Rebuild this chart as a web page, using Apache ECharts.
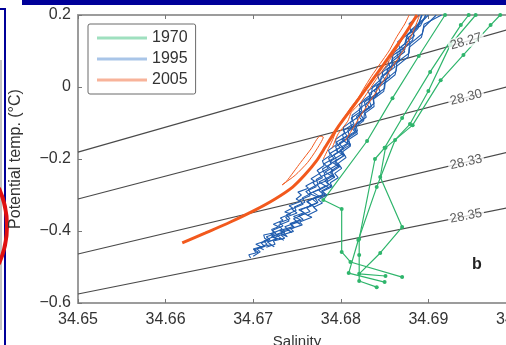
<!DOCTYPE html>
<html>
<head>
<meta charset="utf-8">
<title>Potential temperature vs salinity</title>
<script src="https://cdn.jsdelivr.net/npm/echarts/dist/echarts.min.js"></script>
<style>
html,body{margin:0;padding:0;background:#fff;}
#main{width:506px;height:345px;}
</style>
</head>
<body>
<div id="main"></div>
<script>
// 坐标轴刻度
var salinityTicks = [34.65, 34.66, 34.67, 34.68, 34.69, 34.70];
var tempTicks = [-0.6, -0.4, -0.2, 0, 0.2];
var years = ['1970', '1995', '2005'];

// 等密度线 (sigma)
var isoNames = ['28.27', '28.30', '28.33', '28.35'];
var iso_1 = [[34.65, -0.181], [34.70, 0.166]];
var iso_2 = [[34.65, -0.311], [34.70, 0.007]];
var iso_3 = [[34.65, -0.464], [34.70, -0.176]];
var iso_4 = [[34.65, -0.575], [34.70, -0.331]];
var isoLabelSal = 34.6943;

// 1970 bottle profiles
var g1970_1 = [[34.6870,-0.528],[34.6811,-0.486],[34.6801,-0.458],[34.6801,-0.339],[34.6780,-0.314],[34.6830,-0.150],[34.6859,-0.031],[34.6889,0.086],[34.6919,0.2]];
var g1970_2 = [[34.6841,-0.556],[34.6821,-0.539],[34.6821,-0.467],[34.6821,-0.422],[34.6839,-0.200],[34.6850,-0.169],[34.6870,-0.086],[34.6902,0.042],[34.6937,0.172],[34.6946,0.2]];
var g1970_3 = [[34.6850,-0.542],[34.6809,-0.517],[34.6820,-0.425],[34.6841,-0.278],[34.6862,-0.147],[34.6879,-0.103],[34.6900,-0.011],[34.6925,0.117],[34.6954,0.2]];
var g1970_4 = [[34.6851,-0.525],[34.6821,-0.519],[34.6845,-0.461],[34.6870,-0.389],[34.6845,-0.250],[34.6851,-0.169],[34.6882,-0.106],[34.6914,0.019],[34.6940,0.089],[34.6971,0.172],[34.6982,0.2]];

// 1995 CTD profiles
var b1995_1 = [[34.6697,-0.475],[34.6695,-0.466],[34.6706,-0.459],[34.6700,-0.450],[34.6709,-0.444],[34.6703,-0.437],[34.6717,-0.425],[34.6713,-0.420],[34.6712,-0.411],[34.6724,-0.405],[34.6721,-0.396],[34.6729,-0.388],[34.6723,-0.381],[34.6734,-0.370],[34.6731,-0.364],[34.6743,-0.352],[34.6736,-0.347],[34.6745,-0.336],[34.6741,-0.330],[34.6754,-0.318],[34.6749,-0.311],[34.6755,-0.300],[34.6751,-0.292],[34.6763,-0.281],[34.6760,-0.275],[34.6770,-0.262],[34.6766,-0.255],[34.6776,-0.240],[34.6773,-0.232],[34.6781,-0.218],[34.6779,-0.205],[34.6788,-0.190],[34.6786,-0.176],[34.6795,-0.160],[34.6794,-0.146],[34.6804,-0.128],[34.6803,-0.112],[34.6813,-0.094],[34.6813,-0.078],[34.6824,-0.058],[34.6824,-0.040],[34.6835,-0.020],[34.6836,0.000],[34.6847,0.024],[34.6848,0.046],[34.6858,0.070],[34.6860,0.094],[34.6873,0.120],[34.6876,0.146],[34.6888,0.172],[34.6893,0.200]];
var b1995_2 = [[34.6715,-0.445],[34.6725,-0.437],[34.6723,-0.428],[34.6736,-0.420],[34.6732,-0.412],[34.6746,-0.401],[34.6743,-0.394],[34.6756,-0.383],[34.6753,-0.375],[34.6767,-0.362],[34.6762,-0.356],[34.6773,-0.343],[34.6769,-0.334],[34.6779,-0.322],[34.6774,-0.313],[34.6784,-0.300],[34.6779,-0.290],[34.6790,-0.277],[34.6788,-0.266],[34.6797,-0.252],[34.6793,-0.240],[34.6801,-0.226],[34.6797,-0.212],[34.6806,-0.196],[34.6802,-0.180],[34.6811,-0.164],[34.6809,-0.146],[34.6819,-0.130],[34.6816,-0.112],[34.6826,-0.094],[34.6827,-0.074],[34.6838,-0.054],[34.6837,-0.034],[34.6849,-0.012],[34.6850,0.010],[34.6862,0.034],[34.6864,0.058],[34.6877,0.084],[34.6878,0.110],[34.6892,0.138],[34.6895,0.166],[34.6909,0.200]];
var b1995_3 = [[34.6717,-0.430],[34.6728,-0.421],[34.6721,-0.415],[34.6736,-0.404],[34.6730,-0.399],[34.6745,-0.388],[34.6742,-0.379],[34.6754,-0.369],[34.6746,-0.360],[34.6758,-0.349],[34.6752,-0.341],[34.6767,-0.329],[34.6762,-0.318],[34.6773,-0.305],[34.6764,-0.296],[34.6777,-0.284],[34.6773,-0.271],[34.6785,-0.259],[34.6781,-0.246],[34.6791,-0.232],[34.6785,-0.219],[34.6795,-0.203],[34.6792,-0.188],[34.6803,-0.172],[34.6798,-0.156],[34.6810,-0.138],[34.6808,-0.120],[34.6820,-0.100],[34.6818,-0.082],[34.6829,-0.062],[34.6827,-0.042],[34.6840,-0.020],[34.6841,0.002],[34.6853,0.026],[34.6853,0.050],[34.6867,0.076],[34.6868,0.102],[34.6882,0.130],[34.6884,0.160],[34.6900,0.200]];
var b1995_4 = [[34.6764,-0.330],[34.6774,-0.321],[34.6771,-0.310],[34.6782,-0.298],[34.6778,-0.289],[34.6789,-0.275],[34.6784,-0.264],[34.6793,-0.250],[34.6788,-0.238],[34.6798,-0.222],[34.6793,-0.208],[34.6803,-0.192],[34.6799,-0.176],[34.6808,-0.158],[34.6807,-0.140],[34.6819,-0.122],[34.6817,-0.104],[34.6829,-0.084],[34.6827,-0.066],[34.6838,-0.046],[34.6837,-0.026],[34.6850,-0.004],[34.6851,0.020],[34.6863,0.044],[34.6864,0.068],[34.6878,0.094],[34.6879,0.120],[34.6893,0.148],[34.6895,0.174],[34.6915,0.200]];
var b1995_5 = [[34.6703,-0.460],[34.6701,-0.452],[34.6713,-0.443],[34.6709,-0.433],[34.6719,-0.424],[34.6715,-0.416],[34.6726,-0.407],[34.6722,-0.398],[34.6734,-0.386],[34.6730,-0.377],[34.6742,-0.366],[34.6738,-0.355],[34.6749,-0.343],[34.6747,-0.333],[34.6759,-0.320],[34.6756,-0.308],[34.6766,-0.296],[34.6763,-0.285],[34.6774,-0.270],[34.6772,-0.257],[34.6782,-0.243],[34.6779,-0.228],[34.6789,-0.214],[34.6786,-0.198],[34.6797,-0.182],[34.6794,-0.166],[34.6804,-0.150],[34.6802,-0.133],[34.6813,-0.116],[34.6811,-0.098],[34.6822,-0.080],[34.6821,-0.060],[34.6833,-0.040],[34.6833,-0.018],[34.6845,0.004],[34.6846,0.028],[34.6858,0.052],[34.6859,0.078],[34.6873,0.104],[34.6875,0.132],[34.6888,0.162],[34.6892,0.200]];
var b1995_6 = [[34.6712,-0.452],[34.6707,-0.446],[34.6720,-0.438],[34.6724,-0.444],[34.6716,-0.430],[34.6731,-0.420],[34.6735,-0.426],[34.6726,-0.410],[34.6740,-0.398],[34.6744,-0.404],[34.6736,-0.388],[34.6750,-0.376],[34.6754,-0.382],[34.6746,-0.366],[34.6759,-0.352],[34.6763,-0.358],[34.6754,-0.342],[34.6767,-0.328],[34.6770,-0.334],[34.6761,-0.318],[34.6775,-0.302],[34.6778,-0.308],[34.6768,-0.292],[34.6783,-0.274],[34.6786,-0.280],[34.6775,-0.264],[34.6790,-0.246],[34.6793,-0.252],[34.6782,-0.236],[34.6796,-0.216],[34.6799,-0.222],[34.6788,-0.206],[34.6802,-0.186],[34.6805,-0.192],[34.6794,-0.176],[34.6808,-0.156],[34.6811,-0.162],[34.6801,-0.146],[34.6816,-0.124],[34.6812,-0.112],[34.6824,-0.092],[34.6820,-0.080],[34.6833,-0.058],[34.6829,-0.046],[34.6842,-0.022],[34.6838,-0.010],[34.6852,0.016],[34.6848,0.030],[34.6862,0.056],[34.6858,0.070],[34.6873,0.098],[34.6869,0.112],[34.6884,0.142],[34.6880,0.158],[34.6895,0.190],[34.6897,0.200]];
var b1995_7 = [[34.6700,-0.470],[34.6708,-0.458],[34.6704,-0.449],[34.6716,-0.437],[34.6712,-0.428],[34.6722,-0.417],[34.6727,-0.423],[34.6720,-0.408],[34.6733,-0.395],[34.6729,-0.384],[34.6741,-0.372],[34.6737,-0.362],[34.6750,-0.350],[34.6744,-0.339],[34.6757,-0.326],[34.6753,-0.314],[34.6765,-0.302],[34.6760,-0.290],[34.6772,-0.277],[34.6768,-0.265],[34.6779,-0.252],[34.6775,-0.240],[34.6786,-0.226],[34.6781,-0.213],[34.6792,-0.198],[34.6788,-0.184],[34.6799,-0.168],[34.6795,-0.153],[34.6807,-0.136],[34.6803,-0.120],[34.6815,-0.102],[34.6812,-0.086],[34.6824,-0.066],[34.6821,-0.048],[34.6834,-0.028],[34.6831,-0.010],[34.6845,0.012],[34.6842,0.032],[34.6856,0.056],[34.6853,0.078],[34.6868,0.102],[34.6865,0.126],[34.6880,0.152],[34.6878,0.176],[34.6890,0.200]];
var b1995_8 = [[34.6724,-0.418],[34.6733,-0.410],[34.6739,-0.416],[34.6733,-0.400],[34.6747,-0.390],[34.6743,-0.380],[34.6757,-0.368],[34.6752,-0.358],[34.6765,-0.346],[34.6761,-0.336],[34.6773,-0.322],[34.6768,-0.312],[34.6780,-0.298],[34.6775,-0.287],[34.6786,-0.272],[34.6782,-0.260],[34.6792,-0.246],[34.6789,-0.233],[34.6798,-0.218],[34.6794,-0.205],[34.6804,-0.190],[34.6800,-0.176],[34.6811,-0.160],[34.6807,-0.144],[34.6818,-0.126],[34.6814,-0.110],[34.6826,-0.090],[34.6822,-0.074],[34.6835,-0.054],[34.6832,-0.036],[34.6845,-0.014],[34.6842,0.004],[34.6856,0.028],[34.6853,0.048],[34.6867,0.072],[34.6864,0.094],[34.6879,0.120],[34.6876,0.144],[34.6891,0.170],[34.6897,0.200]];

// 2005 profiles
var o2005_main = [[34.6619,-0.433],[34.6645,-0.406],[34.6674,-0.375],[34.6702,-0.342],[34.6725,-0.311],[34.6745,-0.278],[34.6759,-0.244],[34.6772,-0.206],[34.6783,-0.164],[34.6796,-0.114],[34.6811,-0.064],[34.6826,-0.014],[34.6842,0.039],[34.6858,0.094],[34.6874,0.150],[34.6887,0.200]];
var o2005_1 = [[34.6733,-0.272],[34.6748,-0.245],[34.6762,-0.210],[34.6772,-0.175],[34.6780,-0.139],[34.6776,-0.137],[34.6766,-0.172],[34.6754,-0.210],[34.6738,-0.262],[34.6733,-0.272]];
var o2005_2 = [[34.6780,-0.200],[34.6790,-0.150],[34.6797,-0.110],[34.6805,-0.080],[34.6812,-0.055],[34.6820,-0.030],[34.6826,-0.005],[34.6835,0.030],[34.6845,0.065],[34.6855,0.100],[34.6864,0.140],[34.6873,0.175],[34.6878,0.2]];
var o2005_3 = [[34.6790,-0.170],[34.6797,-0.130],[34.6808,-0.095],[34.6812,-0.070],[34.6822,-0.045],[34.6832,-0.010],[34.6840,0.020],[34.6852,0.060],[34.6862,0.100],[34.6872,0.140],[34.6880,0.175],[34.6886,0.2]];
var o2005_4 = [[34.6805,-0.150],[34.6815,-0.110],[34.6825,-0.070],[34.6836,-0.030],[34.6848,0.015],[34.6860,0.060],[34.6871,0.100],[34.6882,0.150],[34.6890,0.2]];

var colors = {'1970': '#2fb56c', '1995': '#1f5cae', '2005': '#f2591d'};
var legendColors = {'1970': '#9fe0bf', '1995': '#a9c5e8', '2005': '#f8b39a'};
var fontFam = 'Liberation Sans, Arial, sans-serif';

function fmtTemp(v){
	if(Math.abs(v) < 1e-9){
		return '0';
	}
	return (v < 0 ? '\u2212' : '') + Math.abs(v).toFixed(1);
}

function isoAt(line, s){ //线性插值求标注位置
	var p0 = line[0], p1 = line[1];
	return p0[1] + (s - p0[0]) * (p1[1] - p0[1]) / (p1[0] - p0[0]);
}

function each(arr, fn){
	for(var i = 0; i < arr.length; i++){
		fn(i, arr[i]);
	}
}

var isoLines = [iso_1, iso_2, iso_3, iso_4];
var isoRotate = [16, 14.5, 13, 11];
var series = [];
var labelData = [];

each(isoLines, function(i, line){
	series.push({
		name: 'iso' + i,
		type: 'line',
		data: line,
		symbol: 'none',
		silent: true,
		z: 1,
		lineStyle: {color: '#4a4a4a', width: 1.2}
	});
	labelData.push({
		name: isoNames[i],
		value: [isoLabelSal, isoAt(line, isoLabelSal)],
		label: {rotate: isoRotate[i]}
	});
});

each([g1970_1, g1970_2, g1970_3, g1970_4], function(i, d){
	series.push({
		name: '1970',
		type: 'line',
		data: d,
		symbol: 'circle',
		symbolSize: 4,
		showSymbol: true,
		z: 2,
		itemStyle: {color: colors['1970']},
		lineStyle: {color: colors['1970'], width: 1.2}
	});
});

each([b1995_1, b1995_2, b1995_3, b1995_4, b1995_5, b1995_6, b1995_7, b1995_8], function(i, d){
	series.push({
		name: '1995',
		type: 'line',
		data: d,
		symbol: 'none',
		z: 3,
		itemStyle: {color: colors['1995']},
		lineStyle: {color: colors['1995'], width: 1.1}
	});
});

each([o2005_1, o2005_2, o2005_3, o2005_4, o2005_main], function(i, d){
	var isMain = d === o2005_main;
	series.push({
		name: '2005',
		type: 'line',
		data: d,
		symbol: 'none',
		smooth: isMain ? 0.3 : 0.2,
		z: 4,
		itemStyle: {color: colors['2005']},
		lineStyle: {color: colors['2005'], width: isMain ? 3 : 1}
	});
});

series.push({
	name: 'isoLabels',
	type: 'scatter',
	data: labelData,
	symbolSize: 0,
	silent: true,
	z: 5,
	label: {
		show: true,
		position: 'inside',
		formatter: '{b}',
		color: '#333',
		fontSize: 13,
		fontFamily: fontFam,
		backgroundColor: '#fff',
		padding: [0, 2]
	}
});

var axisLineStyle = {show: true, onZero: false, lineStyle: {color: '#9c9c9c', width: 2}};
var axisTickStyle = {show: true, inside: true, length: 4, lineStyle: {color: '#777'}};

var option = {
	animation: false,
	backgroundColor: '#fff',
	grid: {left: 78, top: 15, right: -10, bottom: 42, containLabel: false, outerBoundsMode: 'none'},
	legend: {
		data: years.map(function(y){
			return {name: y, itemStyle: {color: legendColors[y]}, lineStyle: {color: legendColors[y]}};
		}),
		orient: 'vertical',
		left: 88,
		top: 24,
		icon: 'rect',
		itemWidth: 50,
		itemHeight: 3,
		itemGap: 5,
		padding: [6, 8, 6, 9],
		borderColor: '#6a6a6a',
		borderWidth: 1,
		borderRadius: 2,
		backgroundColor: '#fff',
		selectedMode: false,
		textStyle: {fontSize: 16, color: '#333', fontFamily: fontFam}
	},
	xAxis: [{
		type: 'value',
		min: salinityTicks[0],
		max: salinityTicks[salinityTicks.length - 1],
		interval: 0.01,
		name: 'Salinity',
		nameLocation: 'middle',
		nameGap: 31,
		nameTextStyle: {fontSize: 15, color: '#333', fontFamily: fontFam},
		axisLine: axisLineStyle,
		axisTick: axisTickStyle,
		splitLine: {show: false},
		axisLabel: {
			fontSize: 16, color: '#333', margin: 9,
			fontFamily: fontFam,
			formatter: function(v){ return v.toFixed(2); }
		}
	}, {
		type: 'value',
		position: 'top',
		min: salinityTicks[0],
		max: salinityTicks[salinityTicks.length - 1],
		interval: 0.01,
		axisLine: axisLineStyle,
		axisTick: axisTickStyle,
		axisLabel: {show: false},
		splitLine: {show: false}
	}],
	yAxis: {
		type: 'value',
		min: tempTicks[0],
		max: tempTicks[tempTicks.length - 1],
		interval: 0.2,
		name: 'Potential temp. (\u00b0C)',
		nameLocation: 'middle',
		nameGap: 54,
		nameTextStyle: {fontSize: 16, color: '#333', fontFamily: fontFam},
		axisLine: axisLineStyle,
		axisTick: axisTickStyle,
		splitLine: {show: false},
		axisLabel: {
			fontSize: 16, color: '#333', margin: 7,
			fontFamily: fontFam,
			formatter: fmtTemp
		}
	},
	graphic: [
		{type: 'rect', shape: {x: 22, y: 0, width: 484, height: 5}, style: {fill: '#000099'}, silent: true},
		{type: 'polyline', shape: {points: [[0, 9], [5, 9], [5, 345]]}, style: {stroke: '#000099', lineWidth: 2, fill: null}, silent: true},
		{type: 'line', shape: {x1: 1, y1: 60, x2: 1, y2: 330}, style: {stroke: '#888', lineWidth: 1}, silent: true},
		{type: 'arc', shape: {cx: -86, cy: 226, r: 93, startAngle: -0.42, endAngle: 0.42}, style: {stroke: '#e01010', lineWidth: 4, fill: null}, silent: true},
		{type: 'text', left: 472, top: 257, style: {text: 'b', fontSize: 16, fontWeight: 'bold', fill: '#222', fontFamily: fontFam}, silent: true}
	],
	series: series
};

var myChart_1 = echarts.init(document.getElementById('main'));
myChart_1.setOption(option);
window.onresize = function(){
	if(myChart_1){
		myChart_1.resize();
	}
};
</script>
</body>
</html>
